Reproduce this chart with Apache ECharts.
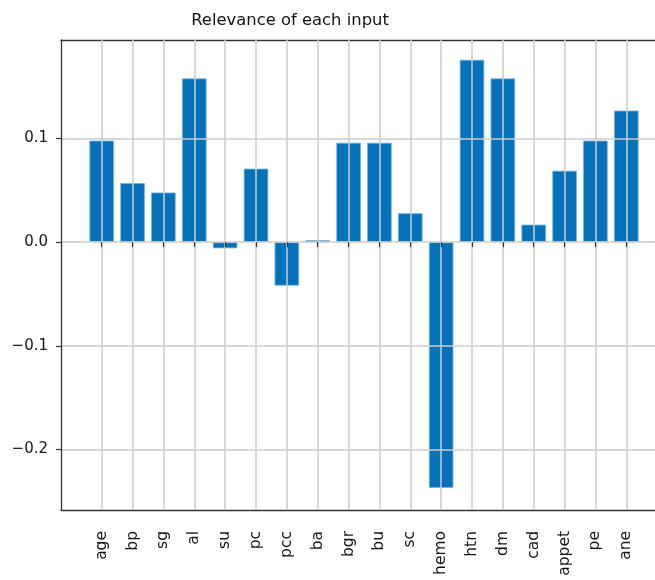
<!DOCTYPE html>
<html>
<head>
<meta charset="utf-8">
<script src="https://cdn.jsdelivr.net/npm/echarts@6/dist/echarts.min.js"></script>
<style>
  html, body { margin: 0; padding: 0; background: #ffffff; }
  #chart { width: 655px; height: 580px; }
</style>
</head>
<body>
<div id="chart"></div>
<script>
// Input features and their relevance scores
const categories = ['age', 'bp', 'sg', 'al', 'su', 'pc', 'pcc', 'ba', 'bgr', 'bu',
                    'sc', 'hemo', 'htn', 'dm', 'cad', 'appet', 'pe', 'ane'];
const relevance = [0.098, 0.057, 0.048, 0.158, -0.006, 0.071, -0.042, 0.002, 0.096, 0.096,
                   0.028, -0.237, 0.176, 0.158, 0.017, 0.069, 0.098, 0.127];
const yTickValues = [-0.2, -0.1, 0.0, 0.1];
const yRange = [-0.2583, 0.195];

const FONT = 'DejaVu Sans';
const GRID_COLOR = '#cccccc';
const TEXT_COLOR = '#151515';
const SPINE = { show: true, onZero: false, lineStyle: { color: '#333333', width: 1.3 } };

const chart = echarts.init(document.getElementById('chart'), null, { renderer: 'canvas' });

const fmt = v => v.toFixed(1).replace('-', '\u2212');

chart.setOption({
  animation: false,
  backgroundColor: '#ffffff',
  title: {
    text: 'Relevance of each input',
    left: 290,
    top: 13,
    textAlign: 'center',
    padding: 0,
    textStyle: { fontFamily: FONT, fontSize: 16.4, fontWeight: 'normal', color: TEXT_COLOR }
  },
  grid: [
    // frame of the axes, carries the y scale and horizontal grid
    { left: 61, top: 40, width: 605, height: 470, outerBoundsMode: 'none' },
    // category positions for the bars
    { left: 101.7, top: 40, width: 524.6, height: 470, outerBoundsMode: 'none' }
  ],
  xAxis: [
    // bottom spine
    { type: 'value', gridIndex: 0, position: 'bottom', min: 0, max: 1,
      axisLine: SPINE, axisTick: { show: false }, axisLabel: { show: false },
      splitLine: { show: false } },
    {
      type: 'category', gridIndex: 1, data: categories, boundaryGap: false, z: 3,
      axisLine: { show: false },
      axisTick: { show: true, length: 5, lineStyle: { color: '#333333', width: 1.2 } },
      axisLabel: {
        rotate: 90, margin: 21, interval: 0,
        fontFamily: FONT, fontSize: 15.5, color: TEXT_COLOR
      },
      splitLine: { show: true, lineStyle: { color: GRID_COLOR, width: 1.5 } }
    },
    // top spine
    { type: 'value', gridIndex: 0, position: 'top', min: 0, max: 1,
      axisLine: SPINE, axisTick: { show: false }, axisLabel: { show: false },
      splitLine: { show: false } }
  ],
  yAxis: [
    {
      type: 'value', gridIndex: 0, min: yRange[0], max: yRange[1], splitNumber: 5, z: 3,
      axisLine: SPINE,
      axisTick: { show: true, length: 5, customValues: yTickValues,
                  lineStyle: { color: '#333333', width: 1.2 } },
      axisLabel: { customValues: yTickValues, margin: 13, formatter: fmt,
                   fontFamily: FONT, fontSize: 15, color: TEXT_COLOR },
      splitLine: { show: true, lineStyle: { color: GRID_COLOR, width: 1.5 } }
    },
    { type: 'value', gridIndex: 1, min: yRange[0], max: yRange[1], show: false }
  ],
  series: [{
    type: 'bar',
    xAxisIndex: 1,
    yAxisIndex: 1,
    data: relevance,
    barWidth: '80%',
    clip: false,
    z: 2,
    itemStyle: {
      color: '#0571b9',
      borderColor: 'rgba(110,175,225,0.8)',
      borderWidth: 1
    }
  }]
});
</script>
</body>
</html>
